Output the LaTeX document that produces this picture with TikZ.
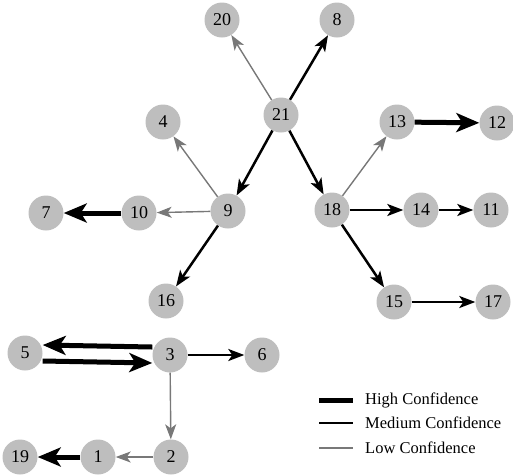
\documentclass[tikz,border=0pt]{standalone}
\usepackage{fontspec}
\setmainfont{Liberation Serif}
\newfontfamily\tnr{Liberation Serif}
\usetikzlibrary{arrows.meta}

\definecolor{vgray}{RGB}{190,190,190}
\definecolor{lgray}{RGB}{120,120,120}

\tikzset{
 v/.style={circle, fill=vgray, minimum size=35pt, inner sep=0pt, font=\tnr\fontsize{18}{18}\selectfont},
 hi/.style={line width=5pt, -{Stealth[length=23pt, width=19pt, inset=6pt]}},
 med/.style={line width=2.5pt, -{Stealth[length=16pt, width=12pt, inset=4pt]}},
 lo/.style={line width=1.4pt, lgray, -{Stealth[length=15pt, width=11pt, inset=4pt]}},
 leg/.style={anchor=west, inner sep=0pt, font=\tnr\fontsize{16.5}{16.5}\selectfont},
}

\begin{document}
\begin{tikzpicture}[x=1pt, y=-1pt]
 \useasboundingbox (0,0) rectangle (513,475);
 % upper tree
 \node[v] (n21) at (281,115) {21};
 \node[v] (n20) at (222,20) {20};
 \node[v] (n8)  at (337,20) {8};
 \node[v] (n4)  at (163,122) {4};
 \node[v] (n9)  at (228,211) {9};
 \node[v] (n10) at (139,213) {10};
 \node[v] (n7)  at (46,213) {7};
 \node[v] (n16) at (166,301) {16};
 \node[v] (n18) at (332,210) {18};
 \node[v] (n13) at (397,122) {13};
 \node[v] (n12) at (497,123) {12};
 \node[v] (n14) at (421,210) {14};
 \node[v] (n11) at (491,210) {11};
 \node[v] (n15) at (394,302) {15};
 \node[v] (n17) at (493,302) {17};
 % lower tree
 \node[v] (n5)  at (25,353) {5};
 \node[v] (n3)  at (170,355) {3};
 \node[v] (n6)  at (262,355) {6};
 \node[v] (n2)  at (171,457) {2};
 \node[v] (n1)  at (98,457) {1};
 \node[v] (n19) at (20,457) {19};

 \draw[lo]  (n21) -- (n20);
 \draw[med] (n21) -- (n8);
 \draw[med] (n21) -- (n9);
 \draw[med] (n21) -- (n18);
 \draw[lo]  (n9) -- (n4);
 \draw[lo]  (n9) -- (n10);
 \draw[hi]  (n10) -- (n7);
 \draw[med] (n9) -- (n16);
 \draw[lo]  (n18) -- (n13);
 \draw[hi]  (n13) -- (n12);
 \draw[med] (n18) -- (n14);
 \draw[med] (n14) -- (n11);
 \draw[med] (n18) -- (n15);
 \draw[med] (n15) -- (n17);

 \draw[hi]  ([yshift=8pt]n3.west) -- ([yshift=8pt]n5.east);
 \draw[hi]  ([yshift=-8pt]n5.east) -- ([yshift=-8pt]n3.west);
 \draw[med] (n3) -- (n6);
 \draw[lo]  (n3) -- (n2);
 \draw[lo]  (n2) -- (n1);
 \draw[hi]  (n1) -- (n19);

 % legend
 \node[leg] (th) at (365,400) {High Confidence};
 \node[leg] (tm) at (365,423) {Medium Confidence};
 \node[leg] (tl) at (365,448) {Low Confidence};
 \coordinate (ch) at (319,400);
 \coordinate (cm) at (319,423);
 \coordinate (cl) at (319,448);
 \draw[line width=5pt] (ch) -- ++(34,0);
 \draw[line width=2.5pt] (cm) -- ++(34,0);
 \draw[line width=1.4pt, lgray] (cl) -- ++(34,0);
\end{tikzpicture}
\end{document}
